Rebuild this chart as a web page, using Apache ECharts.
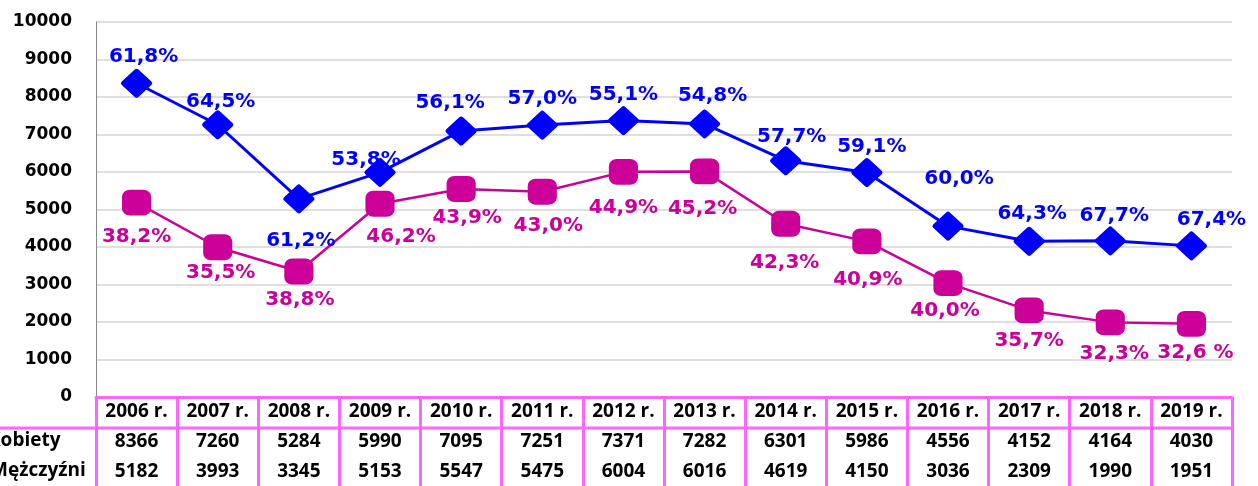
<!DOCTYPE html>
<html>
<head>
<meta charset="utf-8">
<script src="https://cdn.jsdelivr.net/npm/echarts@6/dist/echarts.min.js"></script>
<style>
  html, body { margin: 0; padding: 0; background: #fff; }
  #chart { width: 1258px; height: 486px; }
</style>
</head>
<body>
<div id="chart"></div>
<script>
// data
const years = ["2006 r.", "2007 r.", "2008 r.", "2009 r.", "2010 r.", "2011 r.", "2012 r.",
  "2013 r.", "2014 r.", "2015 r.", "2016 r.", "2017 r.", "2018 r.", "2019 r."];
const kobiety = [8366, 7260, 5284, 5990, 7095, 7251, 7371, 7282, 6301, 5986, 4556, 4152, 4164, 4030];
const mezczyzni = [5182, 3993, 3345, 5153, 5547, 5475, 6004, 6016, 4619, 4150, 3036, 2309, 1990, 1951];
const kobietyPct = ["61,8%", "64,5%", "61,2%", "53,8%", "56,1%", "57,0%", "55,1%", "54,8%",
  "57,7%", "59,1%", "60,0%", "64,3%", "67,7%", "67,4%"];
const mezczyzniPct = ["38,2%", "35,5%", "38,8%", "46,2%", "43,9%", "43,0%", "44,9%", "45,2%",
  "42,3%", "40,9%", "40,0%", "35,7%", "32,3%", "32,6 %"];
const yTicks = { min: 0, max: 10000, interval: 1000 };

// where each percent label sits relative to its marker
const blueOffsets = [[7, -26], [3, -23], [2, 42], [-14, -13], [-11, -28], [0, -26], [0, -26],
  [8, -28], [6, -24], [5, -26], [11, -47], [3, -28], [4, -25], [20, -26]];
const pinkOffsets = [[0, 34], [3, 26], [1, 28], [21, 33], [6, 29], [6, 34], [0, 36],
  [-2, 37], [-1, 39], [1, 38], [-3, 28], [0, 30], [4, 31], [4, 29]];

const BLUE = "#0000ff";
const PINK = "#cc0099";
const TABLE = "#ff66ff";
const labelFont = { fontFamily: "DejaVu Sans", fontWeight: "bold", fontSize: 20 };
const tableFont = { fontFamily: "Open Sans", fontWeight: "bold", fontSize: 19, color: "#000" };

const chart = echarts.init(document.getElementById("chart"));

function points(values, pct, offsets, color) {
  return values.map((v, i) => ({
    value: v,
    label: {
      show: true,
      position: "inside",
      offset: offsets[i],
      formatter: pct[i],
      color: color,
      ...labelFont
    }
  }));
}

function tableAxis(data, offset) {
  return {
    type: "category",
    data: data.map(String),
    position: "bottom",
    offset: offset,
    axisLine: { show: false },
    axisTick: { show: false },
    axisLabel: { interval: 0, margin: 5, ...tableFont }
  };
}

const gridBottom = 89;
const option = {
  animation: false,
  grid: { left: 96, right: 26, top: 22, bottom: gridBottom },
  xAxis: [
    {
      type: "category",
      data: years,
      position: "bottom",
      axisLine: { show: true, lineStyle: { color: TABLE, width: 3 } },
      axisTick: {
        show: true, interval: 0, alignWithLabel: false, length: 95,
        lineStyle: { color: TABLE, width: 3 }
      },
      axisLabel: { interval: 0, margin: 5, ...tableFont }
    },
    tableAxis(kobiety, 30),
    tableAxis(mezczyzni, 60)
  ],
  yAxis: {
    type: "value",
    min: yTicks.min,
    max: yTicks.max,
    interval: yTicks.interval,
    axisLine: { show: true, lineStyle: { color: "#888", width: 1 } },
    axisTick: { show: false },
    splitLine: { lineStyle: { color: "#d4d4d4", width: 1.5 } },
    axisLabel: {
      margin: 24, color: "#000", fontFamily: "DejaVu Sans", fontWeight: "bold", fontSize: 17,
      formatter: (v) => String(v)
    }
  },
  graphic: [
    {
      type: "line",
      shape: { x1: 0, y1: 486 - gridBottom + 31, x2: 1232, y2: 486 - gridBottom + 31 },
      style: { stroke: TABLE, lineWidth: 3 }
    },
    {
      type: "text", left: -12, top: 431,
      style: { text: "Kobiety", ...tableFont, fill: "#000" }
    },
    {
      type: "text", left: -10, top: 461,
      style: { text: "Mężczyźni", ...tableFont, fill: "#000" }
    }
  ],
  series: [
    {
      name: "Mężczyźni",
      type: "line",
      data: points(mezczyzni, mezczyzniPct, pinkOffsets, PINK),
      symbol: "roundRect",
      symbolSize: [27, 24],
      lineStyle: { color: PINK, width: 2.5 },
      itemStyle: { color: PINK, borderColor: PINK, borderWidth: 2 }
    },
    {
      name: "Kobiety",
      type: "line",
      data: points(kobiety, kobietyPct, blueOffsets, BLUE),
      symbol: "diamond",
      symbolSize: [26, 24],
      lineStyle: { color: BLUE, width: 3 },
      itemStyle: { color: BLUE, borderColor: BLUE, borderWidth: 5, borderJoin: "round" }
    }
  ]
};
chart.setOption(option);
</script>
</body>
</html>
